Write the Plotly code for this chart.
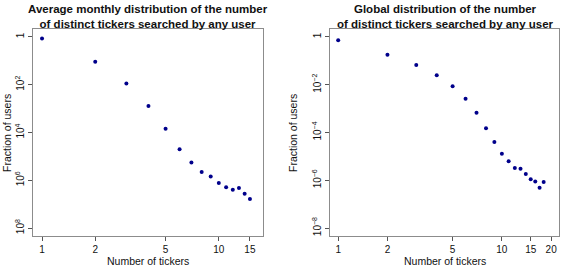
import plotly.graph_objects as go
from plotly.subplots import make_subplots

# Left panel: average monthly distribution
left_x = [1, 2, 3, 4, 5, 6, 7, 8, 9, 10, 11, 12, 13, 14, 15]
left_y = [10**-0.07, 10**-1.04, 10**-1.95, 10**-2.89, 10**-3.84, 10**-4.70, 10**-5.26,
          10**-5.65, 10**-5.84, 10**-6.11, 10**-6.29, 10**-6.40, 10**-6.32, 10**-6.56, 10**-6.78]

# Right panel: global distribution
right_x = list(range(1, 19))
right_y = [10**-0.14, 10**-0.75, 10**-1.18, 10**-1.61, 10**-2.07, 10**-2.59, 10**-3.17,
           10**-3.82, 10**-4.40, 10**-4.89, 10**-5.20, 10**-5.48, 10**-5.52, 10**-5.74,
           10**-5.96, 10**-6.05, 10**-6.31, 10**-6.07]

y_tickvals = [1, 1e-2, 1e-4, 1e-6, 1e-8]
left_yticktext = ["1", "10<sup>2</sup>", "10<sup>4</sup>", "10<sup>6</sup>", "10<sup>8</sup>"]
right_yticktext = ["1", "10<sup>\u22122</sup>", "10<sup>\u22124</sup>", "10<sup>\u22126</sup>", "10<sup>\u22128</sup>"]
left_xticks = [1, 2, 5, 10, 15]
right_xticks = [1, 2, 5, 10, 15, 20]

titles = ["<b>Average monthly distribution of the number<br>of distinct tickers searched by any user</b>",
          "<b>Global distribution of the number<br>of distinct tickers searched by any user</b>"]

W, H = 561, 267
FONT = "Liberation Sans, Arial, Helvetica, sans-serif"
PT = "#00008B"
BOX = "#8c8c8c"

fig = make_subplots(rows=1, cols=2)
fig.add_trace(go.Scatter(x=left_x, y=left_y, mode="markers",
                         marker=dict(color=PT, size=4), showlegend=False), row=1, col=1)
fig.add_trace(go.Scatter(x=right_x, y=right_y, mode="markers",
                         marker=dict(color=PT, size=4), showlegend=False), row=1, col=2)

ydom = [1 - 236 / H, 1 - 29 / H]
axis_common = dict(showgrid=False, zeroline=False, showline=True, linecolor=BOX, linewidth=1,
                   mirror=True, ticks="outside", ticklen=4, tickcolor="#555", tickwidth=1,
                   tickfont=dict(family=FONT, size=10, color="#111"))

fig.update_xaxes(type="log", domain=[33 / W, 263 / W], range=[-0.051, 1.25],
                 tickvals=left_xticks, ticktext=[str(v) for v in left_xticks],
                 **axis_common, row=1, col=1)
fig.update_xaxes(type="log", domain=[330 / W, 559 / W], range=[-0.05, 1.349],
                 tickvals=right_xticks, ticktext=[str(v) for v in right_xticks],
                 **axis_common, row=1, col=2)
fig.update_yaxes(type="log", domain=ydom, range=[-8.33, 0.33], tickvals=y_tickvals,
                 ticktext=left_yticktext, tickangle=-90, **axis_common, row=1, col=1)
fig.update_yaxes(type="log", domain=ydom, range=[-8.33, 0.33], tickvals=y_tickvals,
                 ticktext=right_yticktext, tickangle=-90, **axis_common, row=1, col=2)

ann = []
for cx, t in [((33 + 263) / 2, titles[0]), ((330 + 560) / 2, titles[1])]:
    ann.append(dict(x=cx / W, y=1 - 1 / H, xref="paper", yref="paper", text=t, showarrow=False,
                    xanchor="center", yanchor="top", font=dict(family=FONT, size=11.5, color="#111")))
for cx in [(33 + 263) / 2, (330 + 560) / 2]:
    ann.append(dict(x=cx / W, y=1 - 261 / H, xref="paper", yref="paper", text="Number of tickers",
                    showarrow=False, xanchor="center", yanchor="middle",
                    font=dict(family=FONT, size=10.5, color="#111")))
for lx in [7, 293]:
    ann.append(dict(x=lx / W, y=1 - 133 / H, xref="paper", yref="paper", text="Fraction of users",
                    showarrow=False, textangle=-90, xanchor="center", yanchor="middle",
                    font=dict(family=FONT, size=10.5, color="#111")))

fig.update_layout(width=W, height=H, margin=dict(l=0, r=0, t=0, b=0),
                  paper_bgcolor="white", plot_bgcolor="white", annotations=ann,
                  font=dict(family=FONT))
fig.write_html("out.html", config={"displayModeBar": False},
               post_script="document.body.style.margin='0';document.body.style.overflow='hidden';")
